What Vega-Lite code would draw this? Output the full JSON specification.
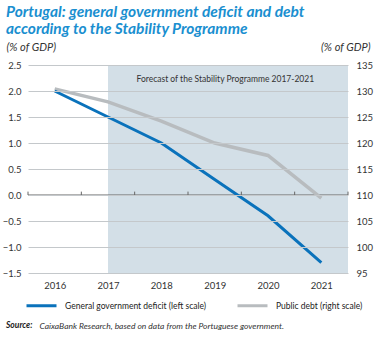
{
  "$schema": "https://vega.github.io/schema/vega-lite/v6.json",
  "width": 320,
  "height": 208,
  "autosize": {"type": "none"},
  "padding": {"left": 28, "top": 65, "right": 37, "bottom": 65},
  "background": "white",
  "config": {
    "font": "Lato",
    "view": {"stroke": null},
    "axis": {"labelFont": "Lato", "titleFont": "Lato", "labelColor": "#333333", "titleColor": "#333333"}
  },
  "title": {
    "text": ["Portugal: general government deficit and debt", "according to the Stability Programme"],
    "anchor": "start",
    "frame": "group",
    "dx": -22,
    "fontSize": 15.5,
    "fontStyle": "italic",
    "fontWeight": "bold",
    "color": "#1a8fd0",
    "lineHeight": 17,
    "offset": 4
  },
  "layer": [
    {
      "layer": [
        {
          "data": {"values": [{}]},
          "mark": {"type": "rect", "color": "#d3dfe7"},
          "encoding": {
            "x": {
              "datum": 2017, "type": "quantitative",
              "scale": {"domain": [2015.5, 2021.5], "nice": false, "zero": false},
              "axis": {
                "values": [2016, 2017, 2018, 2019, 2020, 2021],
                "format": "d",
                "grid": false, "ticks": false, "domain": false,
                "labelFontSize": 9.5, "labelPadding": 7,
                "title": "CaixaBank Research, based on data from the Portuguese government.",
                "titleAnchor": "start", "titleAlign": "left", "titleBaseline": "middle",
                "titleX": 11, "titleY": 52,
                "titleFontSize": 8.5, "titleFontStyle": "italic", "titleFontWeight": "normal"
              }
            },
            "x2": {"datum": 2021.5},
            "y": {
              "datum": 95, "type": "quantitative",
              "scale": {"domain": [95, 135], "nice": false, "zero": false},
              "axis": null
            },
            "y2": {"datum": 135}
          }
        },
        {
          "data": {"values": [{}]},
          "mark": {"type": "text", "fontSize": 8.5, "color": "#333333", "align": "center", "baseline": "middle"},
          "encoding": {
            "x": {"datum": 2019.2, "type": "quantitative"},
            "y": {"datum": 132.3, "type": "quantitative", "axis": null},
            "text": {"value": "Forecast of the Stability Programme 2017-2021"}
          }
        },
        {
          "data": {"values": [{}]},
          "mark": {"type": "rule", "color": "#666666", "strokeWidth": 1.2},
          "encoding": {
            "x": {"datum": 2015.5, "type": "quantitative"},
            "x2": {"datum": 2021.5},
            "y": {"datum": 110, "type": "quantitative", "axis": null}
          }
        },
        {
          "data": {"values": [{"b": 2015.5}, {"b": 2016.5}, {"b": 2017.5}, {"b": 2018.5}, {"b": 2019.5}, {"b": 2020.5}, {"b": 2021.5}]},
          "mark": {"type": "rule", "color": "#666666", "strokeWidth": 1},
          "encoding": {
            "x": {"field": "b", "type": "quantitative"},
            "y": {"datum": 110, "type": "quantitative", "axis": null},
            "y2": {"datum": 110.65}
          }
        }
      ]
    },
    {
      "data": {"values": [
        {"year": 2016, "series": "Public debt (right scale)", "value": 130.4},
        {"year": 2017, "series": "Public debt (right scale)", "value": 127.9},
        {"year": 2018, "series": "Public debt (right scale)", "value": 124.2},
        {"year": 2019, "series": "Public debt (right scale)", "value": 120.0},
        {"year": 2020, "series": "Public debt (right scale)", "value": 117.6},
        {"year": 2021, "series": "Public debt (right scale)", "value": 109.4}
      ]},
      "mark": {"type": "line", "strokeWidth": 3.5},
      "encoding": {
        "x": {"field": "year", "type": "quantitative"},
        "y": {
          "field": "value", "type": "quantitative",
          "scale": {"domain": [95, 135], "nice": false, "zero": false},
          "axis": {
            "orient": "right",
            "values": [95, 100, 105, 110, 115, 120, 125, 130, 135],
            "labelOverlap": false,
            "grid": false, "ticks": false, "domain": false,
            "labelFontSize": 9.5, "labelPadding": 8,
            "title": "(% of GDP)",
            "titleAngle": 0, "titleAlign": "right", "titleBaseline": "middle",
            "titleX": 22, "titleY": -18,
            "titleFontSize": 11, "titleFontStyle": "italic", "titleFontWeight": "normal"
          }
        },
        "color": {
          "field": "series", "type": "nominal",
          "scale": {
            "domain": ["General government deficit (left scale)", "Public debt (right scale)"],
            "range": ["#0a72bb", "#b8bcbf"]
          },
          "legend": {
            "orient": "none", "legendX": -22, "legendY": 224,
            "direction": "horizontal", "columns": 2,
            "symbolType": "stroke", "symbolStrokeWidth": 3, "symbolSize": 900,
            "symbolOffset": 19,
            "labelFontSize": 8.5, "labelOffset": 7, "labelColor": "#222222", "labelLimit": 300,
            "columnPadding": 11,
            "title": "Source:", "titleOrient": "bottom", "titleAnchor": "start",
            "titleFontSize": 8.5, "titleFontStyle": "italic", "titleFontWeight": "bold",
            "titleColor": "#222222", "titlePadding": 9
          }
        }
      }
    },
    {
      "data": {"values": [
        {"year": 2016, "series": "General government deficit (left scale)", "value": 2.0},
        {"year": 2017, "series": "General government deficit (left scale)", "value": 1.5},
        {"year": 2018, "series": "General government deficit (left scale)", "value": 1.0},
        {"year": 2019, "series": "General government deficit (left scale)", "value": 0.3},
        {"year": 2020, "series": "General government deficit (left scale)", "value": -0.4},
        {"year": 2021, "series": "General government deficit (left scale)", "value": -1.3}
      ]},
      "mark": {"type": "line", "strokeWidth": 3},
      "encoding": {
        "x": {"field": "year", "type": "quantitative"},
        "y": {
          "field": "value", "type": "quantitative",
          "scale": {"domain": [-1.5, 2.5], "nice": false, "zero": false},
          "axis": {
            "orient": "left",
            "values": [-1.5, -1, -0.5, 0, 0.5, 1, 1.5, 2, 2.5],
            "format": ".1f",
            "labelOverlap": false,
            "grid": true, "gridColor": "#c4c8cb", "gridWidth": 1,
            "zindex": 1,
            "ticks": false, "domain": false,
            "labelFontSize": 9.5, "labelPadding": 7,
            "title": "(% of GDP)",
            "titleAngle": 0, "titleAlign": "left", "titleBaseline": "middle",
            "titleX": -22, "titleY": -18,
            "titleFontSize": 11, "titleFontStyle": "italic", "titleFontWeight": "normal"
          }
        },
        "color": {"field": "series", "type": "nominal"}
      }
    }
  ],
  "resolve": {"scale": {"y": "independent"}}
}
